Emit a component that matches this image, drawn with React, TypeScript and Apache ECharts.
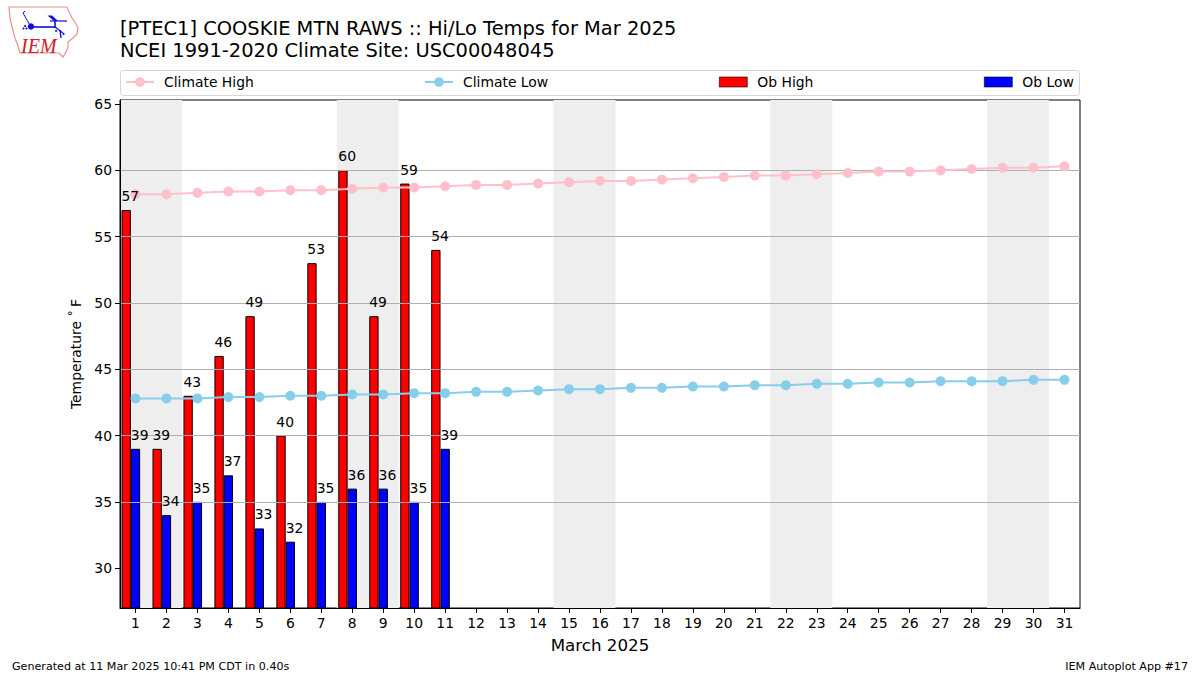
import React, { useEffect, useRef } from "react";
import * as echarts from "echarts";

const days = Array.from({ length: 31 }, (_, i) => String(i + 1));
const obHigh = [57, 39, 43, 46, 49, 40, 53, 60, 49, 59, 54];
const obLow = [39, 34, 35, 37, 33, 32, 35, 36, 36, 35, 39];
const climateHigh = [58.2, 58.2, 58.3, 58.4, 58.4, 58.5, 58.5, 58.6, 58.7, 58.7, 58.8, 58.9, 58.9, 59.0, 59.1, 59.2, 59.2, 59.3, 59.4, 59.5, 59.6, 59.6, 59.7, 59.8, 59.9, 59.9, 60.0, 60.1, 60.2, 60.2, 60.3];
const climateLow = [42.8, 42.8, 42.8, 42.9, 42.9, 43.0, 43.0, 43.1, 43.1, 43.2, 43.2, 43.3, 43.3, 43.4, 43.5, 43.5, 43.6, 43.6, 43.7, 43.7, 43.8, 43.8, 43.9, 43.9, 44.0, 44.0, 44.1, 44.1, 44.1, 44.2, 44.2];
const weekendSpans = [[1, 2], [8, 9], [15, 16], [22, 23], [29, 30]];
const yTicks = [30, 35, 40, 45, 50, 55, 60, 65];
const yMin = 27;
const yMax = 65.3;

const FONT = "DejaVu Sans";
const BAR_W = 9.3;
const LOGO_BLUE = "#1010d8";

const iowaOutline = [[9, 7], [67, 7], [69, 12], [72, 18], [75, 22], [78, 28], [77, 34], [73, 38], [68, 42], [68, 47], [66, 52], [63, 57], [59, 53], [20, 53], [18, 46], [15, 38], [12, 27], [10, 18], [9, 7]];

function legendAt(name: string, left: number, itemHeight: number, icon?: string) {
  const base: any = {
    show: true,
    data: icon ? [{ name, icon }] : [name],
    left,
    top: 75,
    orient: "horizontal",
    padding: 0,
    itemWidth: 28,
    itemHeight,
    selectedMode: false,
    textStyle: { fontFamily: FONT, fontSize: 13.9, color: "#000", padding: [0, 0, 0, 5] },
  };
  if (icon) base.itemStyle = { borderWidth: 0.6 };
  return base;
}

function logoLine(x1: number, y1: number, x2: number, y2: number, lineWidth: number) {
  return { type: "line", silent: true, shape: { x1, y1, x2, y2 }, style: { stroke: LOGO_BLUE, lineWidth } };
}

function logoDot(cx: number, cy: number, r: number) {
  return { type: "circle", silent: true, shape: { cx, cy, r }, style: { fill: LOGO_BLUE } };
}

export default function App() {
  const ref = useRef<HTMLDivElement>(null);
  useEffect(() => {
    const chart = echarts.init(ref.current!, null, { renderer: "svg" });
    const labelData = [
      ...obHigh.map((v, i) => [i, v, -1.5 * BAR_W]),
      ...obLow.map((v, i) => [i, v, -0.5 * BAR_W]),
    ];
    chart.setOption({
      animation: false,
      backgroundColor: "#fff",
      textStyle: { fontFamily: FONT },
      title: [
        {
          text: "[PTEC1] COOSKIE MTN RAWS :: Hi/Lo Temps for Mar 2025\nNCEI 1991-2020 Climate Site: USC00048045",
          left: 120,
          top: 18,
          padding: 0,
          textStyle: { fontFamily: FONT, fontSize: 19.44, fontWeight: "normal", color: "#000", lineHeight: 21.5 },
        },
        {
          text: "Generated at 11 Mar 2025 10:41 PM CDT in 0.40s",
          left: 12,
          top: 661,
          padding: 0,
          textStyle: { fontFamily: FONT, fontSize: 11.11, fontWeight: "normal", color: "#000" },
        },
        {
          text: "IEM Autoplot App #17",
          right: 12,
          top: 661,
          padding: 0,
          textStyle: { fontFamily: FONT, fontSize: 11.11, fontWeight: "normal", color: "#000" },
        },
      ],
      legend: [
        legendAt("Climate High", 125, 12),
        legendAt("Climate Low", 424, 12),
        legendAt("Ob High", 719, 10, "rect"),
        legendAt("Ob Low", 984, 10, "rect"),
      ],
      grid: { left: 120, right: 120, top: 100, bottom: 67, show: true, borderColor: "#000", borderWidth: 1, backgroundColor: "#fff", containLabel: false },
      xAxis: {
        type: "category",
        data: days,
        z: 4,
        name: "March 2025",
        nameLocation: "middle",
        nameGap: 28,
        nameTextStyle: { fontFamily: FONT, fontSize: 16.7, color: "#000" },
        axisLine: { show: true, lineStyle: { color: "#000", width: 1 } },
        axisTick: { show: true, alignWithLabel: true, length: 5, lineStyle: { color: "#000" } },
        axisLabel: { interval: 0, margin: 8, fontFamily: FONT, fontSize: 13.9, color: "#000" },
        splitLine: { show: false },
      },
      yAxis: {
        type: "value",
        min: yMin,
        max: yMax,
        interval: 5,
        z: 4,
        name: "Temperature ˚\u2009F",
        nameLocation: "middle",
        nameRotate: 90,
        nameGap: 37,
        nameTextStyle: { fontFamily: FONT, fontSize: 13.9, color: "#000" },
        axisLine: { show: true, onZero: false, lineStyle: { color: "#000", width: 1 } },
        axisTick: { show: true, length: 5, customValues: yTicks, lineStyle: { color: "#000" } },
        axisLabel: { customValues: yTicks, margin: 8, fontFamily: FONT, fontSize: 13.9, color: "#000" },
        splitLine: { show: true, showMinLine: false, showMaxLine: false, lineStyle: { color: "#b0b0b0", width: 1 } },
      },
      series: [
        {
          type: "custom",
          name: "weekends",
          z: 1,
          silent: true,
          data: weekendSpans,
          encode: { x: 0 },
          renderItem: (_: any, api: any) => {
            const band = api.size([1, 0])[0];
            const a = api.coord([api.value(0) - 1, yMax]);
            const b = api.coord([api.value(1) - 1, yMin]);
            return {
              type: "rect",
              shape: { x: a[0] - band / 2, y: a[1], width: b[0] - a[0] + band, height: b[1] - a[1] },
              style: { fill: "#eeeeee" },
            };
          },
        },
        {
          type: "bar",
          name: "Ob High",
          z: 2,
          data: obHigh,
          barWidth: BAR_W,
          barGap: 0,
          itemStyle: { color: "#ff0000", borderColor: "#000", borderWidth: 1 },
        },
        {
          type: "bar",
          name: "Ob Low",
          z: 2,
          data: obLow,
          barWidth: BAR_W,
          barGap: 0,
          itemStyle: { color: "#0000ff", borderColor: "#000", borderWidth: 1 },
        },
        { type: "bar", name: "spacer", z: 2, data: [], barWidth: BAR_W, barGap: 0 },
        {
          type: "line",
          name: "Climate High",
          z: 6,
          data: climateHigh,
          symbol: "circle",
          symbolSize: 10,
          showSymbol: true,
          lineStyle: { color: "#ffc0cb", width: 2 },
          itemStyle: { color: "#ffc0cb" },
        },
        {
          type: "line",
          name: "Climate Low",
          z: 6,
          data: climateLow,
          symbol: "circle",
          symbolSize: 10,
          showSymbol: true,
          lineStyle: { color: "#87ceeb", width: 2 },
          itemStyle: { color: "#87ceeb" },
        },
        {
          type: "custom",
          name: "barLabels",
          z: 8,
          silent: true,
          data: labelData,
          encode: { x: 0, y: 1 },
          renderItem: (_: any, api: any) => {
            const p = api.coord([api.value(0), api.value(1)]);
            return {
              type: "text",
              x: p[0] + api.value(2),
              y: p[1] - 14,
              style: {
                text: String(api.value(1)),
                fill: "#000",
                font: `13.9px "${FONT}"`,
                textAlign: "left",
                textVerticalAlign: "middle",
              },
            };
          },
        },
      ],
      graphic: [
        {
          type: "rect",
          silent: true,
          z: 0,
          shape: { x: 120.5, y: 70.5, width: 959, height: 25, r: 3 },
          style: { fill: "#fff", stroke: "#d5d5d5", lineWidth: 1 },
        },
        { type: "polyline", silent: true, shape: { points: iowaOutline }, style: { fill: "none", stroke: "#e89090", lineWidth: 1.2 } },
        logoLine(31, 27, 55, 27, 1.6),
        logoLine(50, 21, 67, 21, 1.2),
        logoLine(55, 21, 55, 28, 1.6),
        logoLine(55, 27, 63, 33, 1.2),
        logoLine(60, 30, 61, 38, 1.4),
        logoLine(31, 27, 23, 13, 1),
        logoLine(23, 13, 25, 11, 1),
        logoDot(31, 26.5, 3.2),
        { type: "polygon", silent: true, shape: { points: [[47.5, 15.5], [52, 15.5], [58, 21], [54, 21]] }, style: { fill: LOGO_BLUE } },
        logoDot(25, 26, 1),
        logoDot(23.5, 28.5, 1),
        logoDot(26.5, 28.5, 1),
        logoDot(56, 31, 1),
        logoDot(63.5, 34, 1),
        {
          type: "text",
          silent: true,
          x: 21,
          y: 36,
          style: { text: "IEM", font: 'italic 20px "Liberation Serif"', fill: "#d02020" },
        },
      ],
    });
    return () => chart.dispose();
  }, []);
  return <div ref={ref} style={{ position: "absolute", left: 0, top: 0, width: 1200, height: 675 }} />;
}
